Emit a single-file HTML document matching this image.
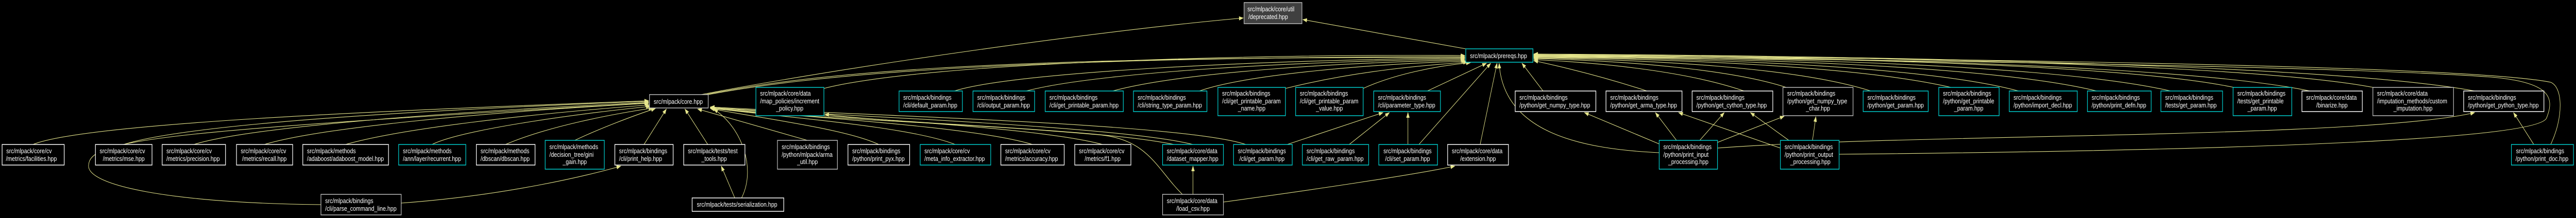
<!DOCTYPE html>
<html><head><meta charset="utf-8"><style>
html,body{margin:0;padding:0;background:#000;width:100%;height:100%;overflow:hidden;}
svg{display:block;position:fixed;left:0;top:0;width:100vw;height:100vh}
text{font-family:"Liberation Sans",Arial,sans-serif;font-size:13px;fill:#fff}
.e{fill:none;stroke:#e6e68c;stroke-width:1.1}
</style></head><body>
<svg viewBox="0 0 6100 424" preserveAspectRatio="none" xmlns="http://www.w3.org/2000/svg">
<defs><marker id="a" markerWidth="11" markerHeight="8" refX="10" refY="4" orient="auto" markerUnits="userSpaceOnUse"><path d="M0,0L11,4L0,8z" fill="#e6e68c"/></marker></defs>
<rect width="6100" height="424" fill="#000"/>
<g class="e" marker-end="url(#a)">
<path d="M78,281 C200,240 900,215 1536,196"/>
<path d="M293,281 C450,240 1000,214 1536,197"/>
<path d="M459,281 C600,245 1100,216 1536,199"/>
<path d="M626,281 C760,248 1150,218 1536,201"/>
<path d="M818,281 C950,250 1250,222 1538,204"/>
<path d="M1023,281 C1100,250 1400,218 1540,207"/>
<path d="M1197,281 C1300,245 1450,222 1546,210"/>
<path d="M1361,273 C1420,250 1500,225 1552,211"/>
<path d="M1525,281 L1578,212"/>
<path d="M1676,281 L1622,212"/>
<path d="M1912,273 L1652,212"/>
<path d="M2081,281 C2000,250 1800,230 1682,211"/>
<path d="M2262,281 C2150,245 1850,228 1682,210"/>
<path d="M2445,281 C2300,245 1900,228 1682,210"/>
<path d="M2611,281 C2450,245 1950,228 1682,209"/>
<path d="M2825,281 C2650,245 2000,226 1682,209"/>
<path d="M2950,281 C2800,240 2050,225 1682,208"/>
<path d="M760,398 C400,395 200,360 210,320 C215,270 400,255 1536,200"/>
<path d="M950,395 C1200,380 1400,340 1470,323"/>
<path d="M1740,385 L1708,323"/>
<path d="M1756,385 C1790,330 1760,250 1690,212"/>
<path d="M2825,378 L2825,323"/>
<path d="M2800,378 C2740,330 2720,270 2600,262 C2300,240 1900,230 1684,211"/>
<path d="M2897,393 C3100,370 3350,340 3445,323"/>
<path d="M2780,281 C2600,250 2100,240 1953,222"/>
<path d="M1951,172 C2200,120 3000,105 3469,108"/>
<path d="M1677,184 C1900,150 2300,112 3469,110"/>
<path d="M1670,184 C1900,146 2300,109 3469,112"/>
<path d="M1660,184 C2000,130 2600,60 2944,35"/>
<path d="M3471,95 L3085,38"/>
<path d="M2260,177 C2400,140 3000,116 3469,113"/>
<path d="M2430,177 C2600,140 3100,118 3469,115"/>
<path d="M2635,177 C2800,140 3200,120 3469,117"/>
<path d="M2840,177 C2950,145 3250,124 3471,119"/>
<path d="M3044,172 C3200,140 3350,128 3475,121"/>
<path d="M3228,172 C3300,145 3400,128 3482,122"/>
<path d="M3380,177 L3520,123"/>
<path d="M3048,281 L3275,219"/>
<path d="M3195,281 L3290,219"/>
<path d="M3334,281 L3334,219"/>
<path d="M3360,281 L3530,123"/>
<path d="M3505,281 L3545,123"/>
<path d="M3654,177 L3604,123"/>
<path d="M3929,297 C3750,290 3560,260 3550,123"/>
<path d="M3900,177 C3800,150 3700,130 3632,118"/>
<path d="M4130,177 C4000,140 3800,122 3632,116"/>
<path d="M4230,170 C4100,135 3850,118 3632,114"/>
<path d="M4430,177 C4250,130 3900,116 3632,113"/>
<path d="M4620,170 C4400,128 3950,114 3632,112"/>
<path d="M4780,177 C4550,126 4000,113 3632,111"/>
<path d="M4965,177 C4700,124 4050,112 3632,110"/>
<path d="M5140,177 C4850,122 4100,111 3632,109"/>
<path d="M5290,170 C5000,120 4150,110 3632,108"/>
<path d="M5470,177 C5150,122 4200,110 3632,107"/>
<path d="M5620,170 C5300,120 4250,109 3632,106"/>
<path d="M5860,177 C5500,122 4300,108 3632,105"/>
<path d="M6040,281 C6070,230 6070,170 6040,160 C5800,120 4000,110 3632,108"/>
<path d="M4355,300 C5000,295 6000,280 6030,230 C6050,190 6040,160 5900,150 C5500,125 4000,112 3632,110"/>
<path d="M6000,281 L5952,219"/>
<path d="M4067,288 C4500,260 5600,270 5860,219"/>
<path d="M3929,280 L3752,219"/>
<path d="M3970,273 L3920,219"/>
<path d="M4025,273 L4083,219"/>
<path d="M4067,277 L4225,226"/>
<path d="M4216,288 L3975,219"/>
<path d="M4236,273 L4145,219"/>
<path d="M4292,273 L4300,227"/>
</g>
<g stroke-width="1.5">
<rect x="2946" y="5" width="137" height="41" fill="#404040" stroke="#bbb"/>
<text x="2954" y="22">src/mlpack/core/util</text><text x="2956" y="37">/deprecated.hpp</text>
<rect x="3471" y="95" width="159" height="26" fill="#000" stroke="#0cc"/>
<text x="3481" y="113">src/mlpack/prereqs.hpp</text>
<rect x="1538" y="184" width="139" height="26" fill="#000" stroke="#bbb"/>
<text x="1548" y="202">src/mlpack/core.hpp</text>
<rect x="1790" y="170" width="161" height="55" fill="#000" stroke="#0cc"/>
<text x="1800" y="186">src/mlpack/core/data</text><text x="1800" y="201">/map_policies/increment</text><text x="1870" y="215" text-anchor="middle">_policy.hpp</text>
</g>
<g fill="#000" stroke-width="1.5">
<rect x="2129" y="177" width="150" height="40" stroke="#0cc"/><text x="2139" y="194">src/mlpack/bindings</text><text x="2139" y="209">/cli/default_param.hpp</text>
<rect x="2304" y="177" width="146" height="40" stroke="#0cc"/><text x="2314" y="194">src/mlpack/bindings</text><text x="2314" y="209">/cli/output_param.hpp</text>
<rect x="2475" y="177" width="185" height="40" stroke="#0cc"/><text x="2485" y="194">src/mlpack/bindings</text><text x="2485" y="209">/cli/get_printable_param.hpp</text>
<rect x="2684" y="177" width="174" height="40" stroke="#0cc"/><text x="2694" y="194">src/mlpack/bindings</text><text x="2694" y="209">/cli/string_type_param.hpp</text>
<rect x="2884" y="170" width="160" height="55" stroke="#0cc"/><text x="2894" y="186">src/mlpack/bindings</text><text x="2894" y="201">/cli/get_printable_param</text><text x="2964" y="215" text-anchor="middle">_name.hpp</text>
<rect x="3068" y="170" width="160" height="55" stroke="#0cc"/><text x="3078" y="186">src/mlpack/bindings</text><text x="3078" y="201">/cli/get_printable_param</text><text x="3148" y="215" text-anchor="middle">_value.hpp</text>
<rect x="3253" y="177" width="158" height="40" stroke="#0cc"/><text x="3263" y="194">src/mlpack/bindings</text><text x="3263" y="209">/cli/parameter_type.hpp</text>
<rect x="3588" y="177" width="191" height="40" stroke="#fff"/><text x="3598" y="194">src/mlpack/bindings</text><text x="3598" y="209">/python/get_numpy_type.hpp</text>
<rect x="3803" y="177" width="180" height="40" stroke="#fff"/><text x="3813" y="194">src/mlpack/bindings</text><text x="3813" y="209">/python/get_arma_type.hpp</text>
<rect x="4007" y="177" width="191" height="40" stroke="#fff"/><text x="4017" y="194">src/mlpack/bindings</text><text x="4017" y="209">/python/get_cython_type.hpp</text>
<rect x="4222" y="170" width="166" height="55" stroke="#bbb"/><text x="4232" y="186">src/mlpack/bindings</text><text x="4232" y="201">/python/get_numpy_type</text><text x="4305" y="215" text-anchor="middle">_char.hpp</text>
<rect x="4412" y="177" width="154" height="40" stroke="#0cc"/><text x="4422" y="194">src/mlpack/bindings</text><text x="4422" y="209">/python/get_param.hpp</text>
<rect x="4591" y="170" width="143" height="55" stroke="#0cc"/><text x="4601" y="186">src/mlpack/bindings</text><text x="4601" y="201">/python/get_printable</text><text x="4662" y="215" text-anchor="middle">_param.hpp</text>
<rect x="4758" y="177" width="161" height="40" stroke="#0cc"/><text x="4768" y="194">src/mlpack/bindings</text><text x="4768" y="209">/python/import_decl.hpp</text>
<rect x="4943" y="177" width="151" height="40" stroke="#0cc"/><text x="4953" y="194">src/mlpack/bindings</text><text x="4953" y="209">/python/print_defn.hpp</text>
<rect x="5117" y="177" width="146" height="40" stroke="#0cc"/><text x="5127" y="194">src/mlpack/bindings</text><text x="5127" y="209">/tests/get_param.hpp</text>
<rect x="5288" y="170" width="139" height="55" stroke="#0cc"/><text x="5298" y="186">src/mlpack/bindings</text><text x="5298" y="201">/tests/get_printable</text><text x="5357" y="215" text-anchor="middle">_param.hpp</text>
<rect x="5451" y="177" width="143" height="40" stroke="#fff"/><text x="5461" y="194">src/mlpack/core/data</text><text x="5522" y="209" text-anchor="middle">/binarize.hpp</text>
<rect x="5619" y="170" width="191" height="55" stroke="#bbb"/><text x="5629" y="186">src/mlpack/core/data</text><text x="5629" y="201">/imputation_methods/custom</text><text x="5714" y="215" text-anchor="middle">_imputation.hpp</text>
<rect x="5834" y="177" width="190" height="40" stroke="#fff"/><text x="5844" y="194">src/mlpack/bindings</text><text x="5844" y="209">/python/get_python_type.hpp</text>
<rect x="5" y="281" width="147" height="40" stroke="#fff"/><text x="15" y="298">src/mlpack/core/cv</text><text x="14" y="313">/metrics/facilities.hpp</text>
<rect x="226" y="281" width="134" height="40" stroke="#fff"/><text x="236" y="298">src/mlpack/core/cv</text><text x="293" y="313" text-anchor="middle">/metrics/mse.hpp</text>
<rect x="384" y="281" width="150" height="40" stroke="#fff"/><text x="394" y="298">src/mlpack/core/cv</text><text x="394" y="313">/metrics/precision.hpp</text>
<rect x="560" y="281" width="133" height="40" stroke="#fff"/><text x="570" y="298">src/mlpack/core/cv</text><text x="626" y="313" text-anchor="middle">/metrics/recall.hpp</text>
<rect x="717" y="281" width="203" height="40" stroke="#fff"/><text x="727" y="298">src/mlpack/methods</text><text x="727" y="313">/adaboost/adaboost_model.hpp</text>
<rect x="944" y="281" width="159" height="40" stroke="#0cc"/><text x="954" y="298">src/mlpack/methods</text><text x="954" y="313">/ann/layer/recurrent.hpp</text>
<rect x="1128" y="281" width="139" height="40" stroke="#fff"/><text x="1138" y="298">src/mlpack/methods</text><text x="1138" y="313">/dbscan/dbscan.hpp</text>
<rect x="1291" y="273" width="140" height="56" stroke="#0cc"/><text x="1301" y="290">src/mlpack/methods</text><text x="1301" y="305">/decision_tree/gini</text><text x="1361" y="319" text-anchor="middle">_gain.hpp</text>
<rect x="1456" y="281" width="138" height="40" stroke="#fff"/><text x="1466" y="298">src/mlpack/bindings</text><text x="1466" y="313">/cli/print_help.hpp</text>
<rect x="1619" y="281" width="145" height="40" stroke="#fff"/><text x="1629" y="298">src/mlpack/tests/test</text><text x="1691" y="313" text-anchor="middle">_tools.hpp</text>
<rect x="1841" y="273" width="142" height="56" stroke="#bbb"/><text x="1851" y="290">src/mlpack/bindings</text><text x="1851" y="305">/python/mlpack/arma</text><text x="1912" y="319" text-anchor="middle">_util.hpp</text>
<rect x="2008" y="281" width="146" height="40" stroke="#fff"/><text x="2018" y="298">src/mlpack/bindings</text><text x="2018" y="313">/python/print_pyx.hpp</text>
<rect x="2179" y="281" width="167" height="40" stroke="#0cc"/><text x="2189" y="298">src/mlpack/core/cv</text><text x="2189" y="313">/meta_info_extractor.hpp</text>
<rect x="2370" y="281" width="150" height="40" stroke="#fff"/><text x="2380" y="298">src/mlpack/core/cv</text><text x="2380" y="313">/metrics/accuracy.hpp</text>
<rect x="2545" y="281" width="133" height="40" stroke="#fff"/><text x="2555" y="298">src/mlpack/core/cv</text><text x="2611" y="313" text-anchor="middle">/metrics/f1.hpp</text>
<rect x="2753" y="281" width="144" height="40" stroke="#0cc"/><text x="2763" y="298">src/mlpack/core/data</text><text x="2763" y="313">/dataset_mapper.hpp</text>
<rect x="2921" y="281" width="139" height="40" stroke="#0cc"/><text x="2931" y="298">src/mlpack/bindings</text><text x="2935" y="313">/cli/get_param.hpp</text>
<rect x="3084" y="281" width="157" height="40" stroke="#0cc"/><text x="3094" y="298">src/mlpack/bindings</text><text x="3094" y="313">/cli/get_raw_param.hpp</text>
<rect x="3265" y="281" width="139" height="40" stroke="#0cc"/><text x="3276" y="298">src/mlpack/bindings</text><text x="3280" y="313">/cli/set_param.hpp</text>
<rect x="3428" y="281" width="144" height="40" stroke="#fff"/><text x="3438" y="298">src/mlpack/core/data</text><text x="3500" y="313" text-anchor="middle">/extension.hpp</text>
<rect x="3929" y="273" width="138" height="56" stroke="#0cc"/><text x="3939" y="290">src/mlpack/bindings</text><text x="3939" y="305">/python/print_input</text><text x="3998" y="319" text-anchor="middle">_processing.hpp</text>
<rect x="4216" y="273" width="139" height="56" stroke="#0cc"/><text x="4226" y="290">src/mlpack/bindings</text><text x="4226" y="305">/python/print_output</text><text x="4287" y="319" text-anchor="middle">_processing.hpp</text>
<rect x="5947" y="281" width="147" height="40" stroke="#0cc"/><text x="5958" y="298">src/mlpack/bindings</text><text x="5957" y="313">/python/print_doc.hpp</text>
<rect x="760" y="378" width="190" height="40" stroke="#bbb"/><text x="770" y="395">src/mlpack/bindings</text><text x="770" y="410">/cli/parse_command_line.hpp</text>
<rect x="1639" y="385" width="217" height="26" stroke="#fff"/><text x="1650" y="402">src/mlpack/tests/serialization.hpp</text>
<rect x="2753" y="378" width="144" height="40" stroke="#bbb"/><text x="2763" y="395">src/mlpack/core/data</text><text x="2825" y="410" text-anchor="middle">/load_csv.hpp</text>
</g>
</svg>
</body></html>
